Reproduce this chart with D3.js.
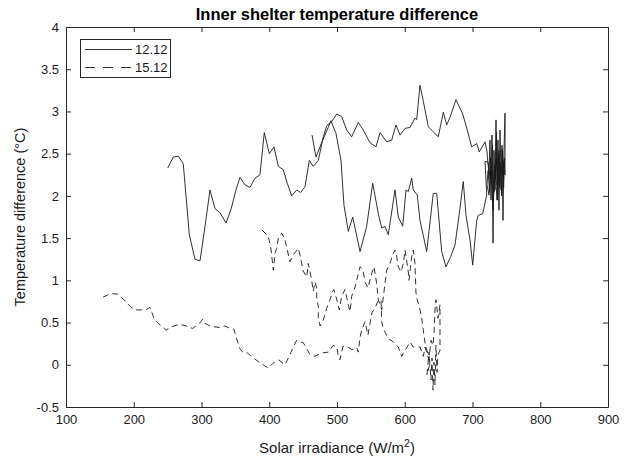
<!DOCTYPE html>
<html><head><meta charset="utf-8">
<script src="https://cdn.jsdelivr.net/npm/d3@7"></script>
<style>
html,body{margin:0;padding:0;background:#fff;}
svg{display:block;font-family:"Liberation Sans",Arial,Helvetica,sans-serif;}
</style></head>
<body>
<svg id="chart" width="631" height="461"></svg>
<script>
// ---- Data (irradiance W/m2, temperature difference °C) ----
const seriesNames = ["12.12", "15.12"];
const xTicks = [100, 200, 300, 400, 500, 600, 700, 800, 900];
const yTicks = [-0.5, 0, 0.5, 1, 1.5, 2, 2.5, 3, 3.5, 4];
const yTickLabels = ["-0.5","0","0.5","1","1.5","2","2.5","3","3.5","4"];

// 12.12 (solid)
const irr1212 = [250.1,258.4,265.8,273.1,282.0,290.4,297.8,305.2,312.5,319.9,327.3,336.2,343.5,350.9,356.8,364.2,371.6,379.0,386.3,392.7,400.1,407.0,413.4,420.7,426.6,433.1,440.5,446.4,452.8,459.1,465.0,472.4,479.8,484.8,492.2,499.6,506.9,514.3,521.7,531.4,538.8,548.7,557.6,563.5,573.4,580.7,587.1,593.0,600.4,607.7,615.1,617.6,622.5,627.4,634.8,642.1,649.5,656.9,661.9,666.8,675.6,685.5,692.3,698.8,706.2,710.0,718.5,721.8,
  721.4,724.4,725.8,727.3,728.8,730.3,731.7,733.2,734.7,736.2,737.6,739.1,740.6,742.1,743.5,745.0,746.5,748.0,748.0,745.0,742.1,739.1,736.2,733.2,730.3,727.3,724.4,721.4,
  723.0,725.1,726.6,728.0,729.5,731.0,732.5,734.0,735.4,736.9,738.4,739.9,741.3,742.8,744.3,745.7,747.2,746.0,744.0,741.0,738.0,735.0,732.0,729.0,726.0,723.0,718.5,
  721.0,715.1,708.6,706.2,700.3,696.3,690.4,686.4,680.5,674.2,667.8,660.9,654.5,647.2,642.1,632.4,622.5,618.5,612.6,610.3,605.2,601.8,597.0,590.5,585.6,575.7,570.8,566.0,561.0,552.7,543.8,534.0,523.2,516.7,510.3,505.9,498.5,491.1,477.9,469.0,463.1];
const dT1212 = [2.33,2.46,2.47,2.38,1.54,1.25,1.23,1.64,2.07,1.85,1.80,1.68,1.84,2.07,2.22,2.13,2.10,2.21,2.25,2.75,2.50,2.58,2.35,2.31,2.15,2.00,2.07,2.04,2.11,2.42,2.35,2.42,2.70,2.83,2.88,2.97,2.94,2.78,2.70,2.87,2.78,2.63,2.58,2.75,2.64,2.66,2.84,2.72,2.80,2.81,2.92,2.90,3.31,3.12,2.82,2.76,2.70,2.99,2.84,2.93,3.14,2.97,2.78,2.58,2.62,2.52,2.64,2.51,
  2.51,2.25,2.66,1.95,2.72,1.44,2.54,2.07,2.90,2.13,2.66,1.83,2.78,2.25,2.60,1.71,2.54,2.98,2.25,2.42,2.07,2.54,1.95,2.37,1.83,2.31,2.01,2.13,
  2.30,2.05,2.45,2.15,2.60,2.00,2.35,2.20,2.75,1.95,2.50,2.10,2.40,2.00,2.55,2.20,2.45,2.10,2.35,2.25,2.15,2.45,2.05,2.30,2.20,2.40,2.41,
  2.01,1.79,1.77,1.71,1.18,1.48,1.77,2.17,1.79,1.42,1.28,1.16,1.34,2.03,2.03,1.34,1.71,2.01,2.07,2.21,2.05,2.07,1.64,1.75,2.07,1.54,1.64,1.62,1.79,2.15,1.64,1.34,1.75,1.58,1.89,2.42,2.74,2.89,2.64,2.46,2.72];

// 15.12 (dashed)
const irr1512 = [154.6,164.9,175.3,185.6,195.9,203.3,209.2,218.1,224.0,229.9,236.2,247.6,256.0,267.2,277.1,287.0,296.8,301.8,305.2,312.5,326.3,334.7,342.1,348.0,350.9,356.8,361.7,367.6,376.5,388.9,398.6,406.0,413.4,423.2,430.6,435.5,440.5,450.3,455.3,460.1,467.5,477.4,487.2,494.1,500.0,501.5,504.4,508.9,516.2,522.1,529.1,531.4,534.0,536.4,541.3,545.7,548.7,551.7,556.1,560.1,565.0,566.0,568.3,575.7,583.1,590.5,595.5,597.9,605.2,607.7,612.6,622.5,627.4,629.9,637.3,
  632.8,635.8,638.7,640.2,641.7,643.2,644.6,646.1,647.6,649.1,652.0,652.0,649.1,646.1,644.6,643.2,641.7,638.7,635.8,632.8,629.9,627.4,625.0,622.5,618.5,616.6,
  615.1,612.6,610.3,606.3,605.2,600.4,597.9,594.5,590.5,588.1,585.6,583.1,578.2,573.4,570.8,567.9,566.0,561.0,558.6,554.6,551.2,545.7,541.3,538.4,534.0,529.1,526.6,521.7,519.2,516.7,511.8,506.9,503.4,500.4,495.5,493.6,489.7,484.8,479.8,475.1,472.4,472.4,470.0,470.0,467.5,465.0,462.7,460.1,457.6,455.3,449.4,447.9,445.4,442.9,435.5,430.6,426.6,423.2,418.4,413.4,411.0,408.5,406.0,402.1,398.6,388.9];
const dT1512 = [0.80,0.84,0.84,0.77,0.68,0.65,0.65,0.65,0.68,0.55,0.49,0.41,0.45,0.48,0.46,0.43,0.49,0.54,0.49,0.46,0.44,0.46,0.43,0.42,0.33,0.19,0.14,0.14,0.08,0.01,-0.04,0.02,0.06,0.00,0.12,0.21,0.29,0.26,0.19,0.12,0.10,0.14,0.15,0.23,0.21,0.12,0.06,0.22,0.21,0.18,0.20,0.15,0.33,0.41,0.51,0.35,0.49,0.62,0.67,0.75,0.77,0.51,0.43,0.31,0.27,0.21,0.10,0.14,0.23,0.27,0.21,0.21,0.10,0.21,0.02,
  -0.12,0.15,-0.18,0.08,-0.30,0.03,-0.24,0.23,-0.09,0.12,0.17,0.71,0.55,0.77,0.65,0.38,0.23,0.29,0.06,0.17,0.26,0.41,0.55,0.65,0.77,0.85,
  1.20,1.36,1.28,1.00,1.10,1.36,1.20,1.10,1.16,1.28,1.36,1.32,1.20,1.12,0.96,0.77,0.65,0.77,0.96,1.16,1.08,0.91,0.98,1.12,1.16,1.00,0.92,0.81,0.63,0.71,0.89,0.81,0.65,0.75,0.89,0.87,0.77,0.67,0.53,0.46,0.55,0.69,0.79,0.91,0.98,0.87,1.00,1.10,1.20,1.04,1.12,1.20,1.30,1.38,1.30,1.22,1.36,1.48,1.56,1.50,1.38,1.32,1.12,1.40,1.52,1.60];

// ---- Layout ----
const svg = d3.select("#chart");
const L = 66, R = 608, T = 27, B = 407;
const x = d3.scaleLinear().domain([100, 900]).range([L, R]);
const y = d3.scaleLinear().domain([-0.5, 4]).range([B, T]);
const axisColor = "#262626";

// title
svg.append("text").attr("x", 337).attr("y", 20).attr("text-anchor", "middle")
  .attr("font-size", 16.5).attr("font-weight", "bold").attr("fill", "#000")
  .text("Inner shelter temperature difference");

// data lines
const line = d3.line().x(d => x(d[0])).y(d => y(d[1]));
const d1 = irr1212.map((v, i) => [v, dT1212[i]]);
const d2 = irr1512.map((v, i) => [v, dT1512[i]]);
const g = svg.append("g");
g.append("path").datum(d1).attr("d", line).attr("fill", "none")
  .attr("stroke", "#1a1a1a").attr("stroke-width", 0.9).attr("stroke-linejoin", "round");
g.append("path").datum(d2).attr("d", line).attr("fill", "none")
  .attr("stroke", "#1a1a1a").attr("stroke-width", 0.9).attr("stroke-dasharray", "6,4");

// axes
function styleAxis(sel) {
  sel.selectAll("path").attr("stroke", axisColor).attr("stroke-width", 1);
  sel.selectAll("line").attr("stroke", axisColor).attr("stroke-width", 1);
  sel.selectAll("text").attr("fill", "#1a1a1a").attr("font-size", 13)
    .attr("font-family", '"Liberation Sans",Arial,Helvetica,sans-serif');
}
const xb = svg.append("g").attr("transform", `translate(0,${B})`)
  .call(d3.axisBottom(x).tickValues(xTicks).tickSizeInner(-5).tickSizeOuter(0).tickPadding(8).tickFormat(d3.format("d")));
styleAxis(xb);
const xt = svg.append("g").attr("transform", `translate(0,${T})`)
  .call(d3.axisTop(x).tickValues(xTicks).tickSizeInner(-5).tickSizeOuter(0).tickFormat(""));
styleAxis(xt);
const yl = svg.append("g").attr("transform", `translate(${L},0)`)
  .call(d3.axisLeft(y).tickValues(yTicks).tickSizeInner(-5).tickSizeOuter(0).tickPadding(7)
    .tickFormat((d, i) => yTickLabels[i]));
styleAxis(yl);
const yr = svg.append("g").attr("transform", `translate(${R},0)`)
  .call(d3.axisRight(y).tickValues(yTicks).tickSizeInner(-5).tickSizeOuter(0).tickFormat(""));
styleAxis(yr);

// axis labels
const xl = svg.append("text").attr("x", 337).attr("y", 453).attr("text-anchor", "middle")
  .attr("font-size", 15).attr("fill", "#1a1a1a");
xl.append("tspan").text("Solar irradiance (W/m");
xl.append("tspan").attr("dy", -6).attr("font-size", 10.5).text("2");
xl.append("tspan").attr("dy", 6).text(")");
svg.append("text").attr("transform", `translate(25,${(T + B) / 2}) rotate(-90)`)
  .attr("text-anchor", "middle").attr("font-size", 14.5).attr("fill", "#1a1a1a")
  .text("Temperature difference (°C)");

// legend
const lg = svg.append("g");
lg.append("rect").attr("x", 80.5).attr("y", 39.5).attr("width", 90).attr("height", 38)
  .attr("fill", "#fff").attr("stroke", axisColor).attr("stroke-width", 1);
const dashes = [null, "10,8"];
seriesNames.forEach((name, i) => {
  const yy = 49.5 + i * 18;
  lg.append("line").attr("x1", 85).attr("x2", 132).attr("y1", yy).attr("y2", yy)
    .attr("stroke", "#1a1a1a").attr("stroke-width", 0.9)
    .attr("stroke-dasharray", dashes[i]);
  lg.append("text").attr("x", 135).attr("y", yy + 4.5).attr("font-size", 13)
    .attr("fill", "#1a1a1a").text(name);
});
</script>
</body></html>
